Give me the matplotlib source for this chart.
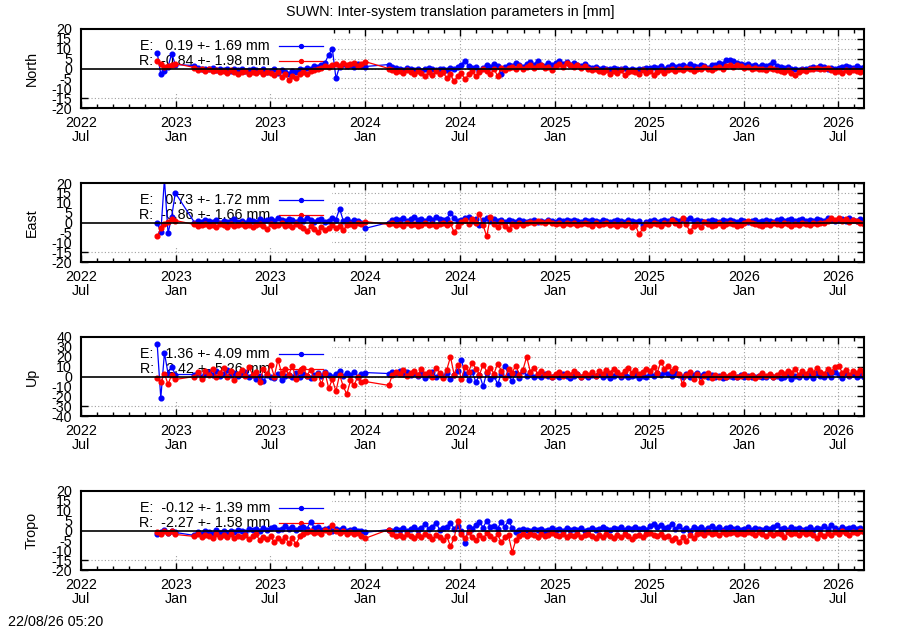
import matplotlib
matplotlib.use('Agg')
import matplotlib.pyplot as plt
import matplotlib.dates as mdates
from matplotlib.lines import Line2D
from matplotlib.patches import Rectangle
import pandas as pd
import datetime as dt

plt.rcParams['font.family'] = ['Liberation Sans', 'DejaVu Sans']
plt.rcParams['axes.unicode_minus'] = False
FS = 10.3

title = "SUWN: Inter-system translation parameters in [mm]"
stamp = "22/08/26 05:20"
panel_names = ["North", "East", "Up", "Tropo"]
e_means = [0.19, 0.73, 1.36, -0.12]
e_sigmas = [1.69, 1.72, 4.09, 1.39]
r_means = [-0.84, -0.86, 2.42, -2.27]
r_sigmas = [1.98, 1.66, 5.26, 1.58]
y_limits = [20, 20, 40, 20]
y_steps = [5, 5, 10, 5]
x_tick_labels = ["2022\nJul", "2023\nJan", "2023\nJul", "2024\nJan", "2024\nJul",
                 "2025\nJan", "2025\nJul", "2026\nJan", "2026\nJul"]
segment_starts = ["2022-11-25", "2023-02-05", "2024-02-15"]
segment_sizes = [6, 48]

north_e = [
    8.0, -3.0, -1.5, 1.0, 7.5, 2.0,
    1.5, 0.5, -0.5, 0.0,  -0.5, 0.5, -1.0, 0.0,  -1.0, -0.5, -1.5, 0.0, -1.0,
    -0.5, -1.5, -1.0, 0.0,  -1.0, -1.5, -0.5, -2.0,  -1.5, -0.5, -2.5, -1.0, -2.0,
    -3.0, -1.5, -2.0, -0.5,  -1.0, 0.5, 0.0, 1.5,  1.0, 2.0, 3.0, 7.0, 10.0,
    -5.0, 1.0, 2.5, 1.5,  2.0, 1.0, 2.5, 1.5, 1.0,
    2.0, 1.0, 0.5,  0.0, -1.0, 0.5, -0.5,  -1.0, 0.0, -1.5, -0.5,  0.5, -0.5, -1.0, 0.0, -0.5,
    -1.0, 0.5, -0.5, 1.0,  2.0, 4.0, 1.5, 0.5,  1.0, -1.5, 0.5, 2.0, 1.0,
    2.5, 1.5, -3.0, 1.0,  2.0, 1.5, 3.0, 2.0, 1.0,  2.5, 3.5, 2.0, 4.0,  2.0, 1.5, 3.0, 2.0,
    3.0, 4.0, 2.5, 3.5, 2.0,  3.0, 2.0, 1.5, 2.5,  1.0, 0.5, 1.0, 0.0,  0.5, -0.5, 0.0, 0.5,
    -0.5, 0.0, 0.5, -1.0, 0.0,  -1.0, 0.0, -0.5, 0.5,  0.5, 1.0, 0.5, 1.5, 0.0,
    1.0, 2.0, 1.0, 1.5,  2.0, 1.0, 2.5, 1.5,  1.0, 2.0, 1.5, 0.5, 2.0,  2.0, 3.0, 2.5, 4.5,
    4.5, 4.0, 3.0, 2.5,
    2.0, 2.5, 1.5, 2.0, 1.0,  2.0, 1.5, 2.0, 3.5,  1.5, 1.0, 0.5, 1.0,  0.0, -0.5, -1.0, 0.0, -0.5,
    0.5, 1.0, 0.5, 1.5,  1.0, 0.0, 0.5, -0.5,  0.5, 1.0, 1.5, 1.0, 0.5,  1.5, 0.5, 1.0,
]
north_r = [
    4.0, 2.5, 1.0, 1.5, 2.0, 2.5,
    0.5, -1.0, 0.0, -1.5,  -0.5, -1.5, -1.0, -2.0,  -1.5, -2.5, -1.0, -2.0, -3.0,
    -2.0, -1.5, -3.0, -2.0,  -2.5, -1.5, -3.0, -2.0,  -2.5, -3.5, -2.0, -4.5, -3.0,
    -6.0, -4.0, -5.0, -3.0,  -2.0, -3.0, -1.5, -1.0,  0.0, 0.5, 1.5, 1.0, 2.0,
    2.5, 1.5, 3.0, 2.0,  2.5, 3.0, 1.5, 2.5, 3.5,
    0.0, -1.0, -2.0,  -1.5, -2.5, -1.0, -2.0,  -3.0, -1.5, -2.5, -4.0,  -2.0, -3.5, -1.5, -3.0, -2.0,
    -5.0, -3.0, -6.5, -4.0,  -2.5, -5.5, -3.0, -1.5,  -4.0, -2.0, -0.5, -1.5, -3.0,
    0.0, -4.0, 0.5, -1.0,  0.5, 1.0, -0.5, 1.5, 0.0,  1.0, 2.0, 0.5, 1.5,  2.0, 0.5, 1.0, -1.0,
    1.5, 2.5, 1.0, 3.0, 2.0,  1.0, 2.0, 0.5, 1.5,  0.0, -1.0, -0.5, -1.5,  -2.0, -1.0, -3.0, -1.5,
    -2.5, -1.0, -3.5, -2.0, -1.5,  -2.0, -3.0, -1.0, -2.5,  -1.5, -3.5, -2.0, -1.0, -2.5,
    -1.0, 0.0, -1.5, -0.5,  -1.0, 0.5, -0.5, -1.5,  0.0, -0.5, 1.0, 0.0, -1.0,  0.5, 1.0, 0.0, 1.5,
    2.0, 1.0, 2.0, 1.5,
    0.5, 1.0, 0.0, 0.5, -0.5,  0.0, -1.0, 0.5, -0.5,  -1.0, -1.5, -2.0, -1.0,  -2.5, -3.5, -2.0, -1.0, -1.5,
    -0.5, 0.0, 0.5, -0.5,  0.0, 0.5, -1.0, -2.0,  -1.5, -2.5, -1.0, -2.0, -1.0,  -1.5, -2.0, -1.0,
]
east_e = [
    0.0, -5.0, 22.0, -5.5, 3.0, 15.0,
    0.0, 1.0, 0.5, 1.5,  1.0, 0.5, 1.5, 0.0,  1.0, 0.5, 1.0, 2.0, 0.5,
    1.0, 0.0, 1.5, 1.0,  0.5, 2.0, 1.0, 1.5,  2.0, 1.0, 2.5, 1.5, 1.0,
    2.0, 1.5, 0.5, 2.0,  1.0, 2.5, 1.5, 0.5,  1.5, 2.0, 0.5, 1.0, 2.5,
    1.5, 7.0, 1.0, 2.0,  0.5, 1.5, 1.0, 0.0, -3.0,
    0.0, 1.5, 2.0,  1.5, 2.5, 1.0, 2.0,  3.0, 1.5, 2.0, 1.0,  2.5, 1.5, 3.0, 2.0, 1.5,
    2.0, 5.0, 2.5, 1.0,  1.5, 2.5, 3.0, 1.0,  2.0, -1.5, 1.5, 2.5, 1.0,
    2.0, 1.0, 1.5, 0.5,  1.5, 1.0, 0.5, 1.5, 1.0,  0.5, 1.0, 1.5, 0.5,  1.0, 0.5, 1.5, 1.0,
    0.5, 1.5, 1.0, 1.5, 1.0,  1.5, 1.0, 0.5, 1.5,  1.0, 1.5, 1.0, 0.5,  1.5, 1.0, 0.5, 1.0,
    1.5, 1.0, 0.5, 1.5, 1.0,  0.5, 1.0, -1.5, 0.5,  1.0, 1.5, 0.5, 1.0, 1.5,
    1.0, 2.0, 1.5, 1.0,  2.0, 1.5, 2.5, 1.0,  1.5, 1.0, 0.5, 1.0, 1.5,  1.0, 0.5, 1.5, 1.0,
    1.5, 1.0, 0.5, 1.5,
    1.0, 0.5, 1.0, 1.5, 0.5,  1.0, 1.5, 1.0, 0.5,  1.5, 2.0, 1.0, 1.5,  2.0, 1.0, 1.5, 2.0, 1.0,
    1.5, 1.0, 2.0, 1.5,  1.0, 2.5, 1.5, 1.0,  1.5, 2.0, 1.0, 2.5, 1.5,  1.0, 2.0, 1.5,
]
east_r = [
    -7.0, -3.0, -1.0, 0.5, 2.0, 1.0,
    -1.0, -2.0, -1.5, -1.0,  -2.0, -1.5, -2.5, -1.0,  -1.5, -2.5, -1.0, -2.0, -1.5,
    -1.0, -2.0, -1.5, -2.5,  -1.5, -1.0, -2.0, -3.5,  -1.0, -2.0, -1.5, -0.5, -2.0,
    -1.5, -2.5, -1.0, -2.0,  -3.0, -4.5, -2.0, -3.5,  -5.0, -2.5, -4.0, -3.0, -1.5,
    -3.0, -2.0, -4.0, -1.5,  -1.0, -2.0, 0.0, -1.0, 0.5,
    -1.0, -0.5, -1.5,  -1.0, -2.0, -0.5, -1.5,  -1.0, -2.0, -1.5, -0.5,  -1.5, -1.0, -2.0, -1.0, -0.5,
    -1.5, -0.5, -5.0, -2.0,  0.5, 1.5, -1.0, 2.0,  0.0, 4.5, -1.5, -7.0, 3.0,
    -1.0, -2.5, 0.5, -2.0,  -3.5, -1.0, -2.0, -0.5, -1.5,  0.0, 0.5, -0.5, 1.0,  0.5, 0.0, 1.0, -0.5,
    -1.0, -0.5, -1.5, -0.5, -1.0,  -0.5, -1.5, -1.0, -0.5,  -1.0, -2.0, -0.5, -1.5,  -1.0, -0.5, -1.5, -1.0,
    -2.0, -1.0, -1.5, -0.5, -2.5,  -1.5, -6.0, -3.0, -1.0,  -1.5, -0.5, -1.0, -2.0, -0.5,
    -1.0, 1.5, 0.0, -1.5,  2.5, -1.0, -4.5, -2.0,  -1.0, -2.5, 0.5, -1.0, -2.0,  -1.5, -0.5, -2.0, -1.0,
    -0.5, -1.0, -2.0, -1.5,
    0.0, 1.0, -0.5, -1.0, -1.5,  -2.0, -1.0, -1.5, -0.5,  -1.0, -1.5, -0.5, -1.0,  -2.0, -1.0, -1.5, -0.5, -1.0,
    -1.5, -0.5, -1.0, 0.0,  -0.5, 1.0, 2.5, 1.5,  2.5, 1.0, 2.0, 0.5, 1.5,  1.0, 0.0, -1.0,
]
up_e = [
    33.0, -22.0, 24.0, 3.0, 10.0, 2.0,
    2.0, 4.0, 0.0, 3.0,  5.0, 2.0, 6.0, 1.0,  3.0, 7.0, 2.0, 4.0, 1.0,
    3.0, 5.0, 0.0, 2.0,  -3.0, 1.0, -5.0, 2.0,  0.0, -2.0, 3.0, -4.0, 1.0,
    2.0, -1.0, 4.0, 0.0,  3.0, 1.0, -2.0, 2.0,  4.0, 1.0, 5.0, 2.0, 0.0,
    3.0, 6.0, 1.0, 4.0,  2.0, 5.0, 0.0, 3.0, 4.0,
    3.0, 5.0, 4.0,  6.0, 3.0, 5.0, 2.0,  4.0, 1.0, 3.0, -2.0,  2.0, 5.0, -1.0, 3.0, 0.0,
    4.0, -3.0, 2.0, 6.0,  17.0, 3.0, -4.0, 5.0,  -6.0, 2.0, -10.0, 4.0, -3.0,
    1.0, -8.0, 3.0, 11.0,  2.0, -5.0, 4.0, -2.0, 6.0,  1.0, 3.0, -1.0, 2.0,  0.0, 3.0, 1.0, -1.0,
    2.0, 0.0, 3.0, 1.0, -2.0,  1.0, 3.0, 0.0, 2.0,  -1.0, 2.0, 1.0, 3.0,  0.0, 2.0, -2.0, 1.0,
    3.0, 0.0, 2.0, -1.0, 1.0,  2.0, -2.0, 1.0, 0.0,  3.0, 1.0, 4.0, 2.0, 5.0,
    3.0, 1.0, 4.0, 2.0,  0.0, 3.0, -1.0, 2.0,  4.0, 1.0, 3.0, 0.0, 2.0,  -1.0, 1.0, -2.0, 0.0,
    1.0, -1.0, 0.0, 2.0,
    0.0, 1.0, -1.0, 0.0, 1.0,  -1.0, 0.0, 2.0, -1.0,  1.0, -2.0, 0.0, 2.0,  -3.0, 1.0, -1.0, 3.0, 0.0,
    2.0, -2.0, 4.0, 1.0,  -1.0, 3.0, 0.0, 5.0,  2.0, -2.0, 4.0, 1.0, 3.0,  0.0, 2.0, -1.0,
]
up_r = [
    -2.0, -6.0, 3.0, -8.0, 2.0, -3.0,
    0.0, 5.0, -3.0, 6.0,  2.0, 8.0, -1.0, 4.0,  9.0, 0.0, 6.0, -4.0, 3.0,
    7.0, 1.0, 10.0, 2.0,  5.0, -6.0, 8.0, 3.0,  12.0, 0.0, 17.0, 4.0, 8.0,
    2.0, 11.0, -3.0, 6.0,  9.0, 1.0, 7.0, -2.0,  3.0, -8.0, 4.0, -12.0, -3.0,
    -15.0, 2.0, -10.0, -18.0,  -4.0, -9.0, 0.0, -6.0, -5.0,
    -9.0, 2.0, 5.0,  3.0, 7.0, 1.0, 4.0,  6.0, 2.0, 8.0, 3.0,  5.0, 0.0, 9.0, 4.0, -2.0,
    7.0, 20.0, 2.0, 12.0,  -3.0, 10.0, 5.0, 14.0,  8.0, 2.0, 12.0, 5.0, 9.0,
    3.0, 13.0, 6.0, -2.0,  8.0, 4.0, 11.0, 2.0, 7.0,  20.0, 5.0, 9.0, 3.0,  6.0, 2.0, 4.0, 0.0,
    3.0, 5.0, 1.0, 4.0, 2.0,  6.0, 3.0, 0.0, 4.0,  2.0, 5.0, 1.0, 6.0,  3.0, 7.0, 4.0, 8.0,
    5.0, 2.0, 6.0, 9.0, 4.0,  7.0, 3.0, 5.0, 8.0,  6.0, 10.0, 4.0, 15.0, 8.0,
    11.0, 6.0, 9.0, 3.0,  -8.0, 2.0, 5.0, -3.0,  3.0, -6.0, 1.0, 4.0, -2.0,  2.0, -1.0, 3.0, 0.0,
    2.0, 4.0, -1.0, 1.0,
    3.0, 0.0, 2.0, -2.0, 1.0,  4.0, 1.0, 3.0, 0.0,  2.0, 5.0, 3.0, 6.0,  4.0, 8.0, 2.0, 6.0, 3.0,
    7.0, 4.0, 9.0, 5.0,  3.0, 8.0, 5.0, 10.0,  11.0, 4.0, 7.0, 2.0, 6.0,  4.0, 7.0, 3.0,
]
tropo_e = [
    -2.0, -1.0, 0.5, -1.5, -0.5, -1.0,
    -2.5, -1.0, -2.0, 0.0,  -1.0, -2.0, 0.5, -1.5,  -0.5, -1.5, 0.0, -1.0, 0.5,
    0.0, -1.0, 1.0, 0.5,  1.0, 0.0, 1.5, 0.5,  1.5, 2.0, 0.5, 1.0, 2.5,
    1.0, 2.0, 0.5, 1.5,  2.0, 1.0, 4.5, 1.5,  2.0, 0.5, 1.0, 1.5, 0.0,
    1.0, 0.5, 1.5, 0.0,  0.5, 1.0, 0.0, -0.5, -1.0,
    0.5, 0.0, 1.0,  0.5, 1.5, 0.0, 1.0,  2.0, 0.5, 1.5, 3.5,  1.0, 2.0, 4.0, 0.5, 1.5,
    2.0, 4.0, 1.0, 2.5,  0.0, -6.5, 2.0, 1.0,  3.0, 4.5, 1.5, 5.0, 2.0,
    2.5, 1.0, 4.5, 2.0,  5.0, 1.5, -1.0, 0.5, 1.0,  0.5, 0.0, 1.0, 0.5,  1.0, 0.0, 0.5, 1.5,
    0.5, 1.0, 0.0, 1.5, 0.5,  1.0, 0.5, 1.5, 0.0,  0.5, 1.5, 0.5, 1.0,  2.0, 1.0, 0.5, 1.5,
    1.0, 2.0, 0.5, 1.5, 1.0,  2.0, 1.0, 1.5, 0.5,  2.5, 3.5, 2.0, 3.0, 1.5,
    2.0, 3.5, 1.0, 2.5,  0.5, 1.5, 0.0, 2.0,  1.0, 2.0, 0.5, 1.5, 2.5,  1.0, 2.0, 0.5, 1.5,
    2.0, 1.0, 1.5, 0.5,
    1.0, 2.0, 0.5, 1.5, 1.0,  0.5, 1.5, 1.0, 2.0,  3.0, 1.0, 1.5, 0.5,  2.0, 1.0, 1.5, 0.5, 1.0,
    2.0, 0.5, 1.5, 1.0,  2.5, 1.0, 3.0, 1.5,  0.5, 2.0, 1.0, 1.5, 2.0,  1.0, 1.5, 0.5,
]
tropo_r = [
    -1.0, -2.0, -0.5, -1.5, 0.0, -2.0,
    -3.0, -2.0, -3.5, -2.5,  -3.0, -4.0, -2.0, -3.5,  -2.5, -3.5, -2.0, -4.0, -3.0,
    -3.5, -2.5, -4.5, -3.0,  -2.0, -5.0, -3.5, -4.5,  -3.0, -6.0, -4.0, -5.5, -3.5,
    -6.5, -4.0, -7.0, -3.0,  -2.0, -1.0, 0.0, -1.5,  -1.0, -2.0, 0.5, -1.0, 3.0,
    -0.5, -1.5, -0.5, -2.0,  -1.0, -2.0, -1.5, -3.0, -4.0,
    0.5, -2.0, -3.0,  -2.5, -3.5, -2.0, -3.0,  -4.0, -2.5, -3.5, -2.0,  -3.0, -4.5, -2.5, -3.5, -5.0,
    -3.0, -8.0, -4.0, 5.0,  -2.0, -4.0, -1.0, -3.5,  -5.0, -2.5, -4.0, -1.5, -3.0,
    -4.5, -2.0, -6.0, -3.5,  -2.5, -11.0, -5.0, -3.0, -2.0,  -3.0, -2.0, -2.5, -3.5,  -2.0, -3.0, -2.5, -1.5,
    -2.5, -3.0, -2.0, -3.5, -2.5,  -3.0, -2.0, -3.5, -2.5,  -2.0, -3.0, -4.0, -2.5,  -3.5, -2.0, -3.0, -4.0,
    -2.5, -3.5, -2.0, -3.0, -4.5,  -3.0, -2.5, -3.5, -2.0,  -1.5, -2.5, -3.0, -2.0, -3.5,
    -3.0, -5.0, -4.0, -6.0,  -3.5, -5.5, -2.5, -4.0,  -2.0, -1.5, -2.5, -1.0, -2.0,  -1.5, -2.5, -1.0, -2.0,
    -1.5, -1.0, -2.0, -1.5,
    -2.0, -1.0, -1.5, -2.5, -1.0,  -2.0, -3.0, -1.5, -2.5,  -1.5, -2.0, -3.5, -1.0,  -2.0, -1.5, -2.5, -1.0, -2.0,
    -1.5, -2.5, -4.0, -2.0,  -3.0, -1.5, -2.5, -1.0,  -2.0, -0.5, -1.5, -2.5, -1.0,  -1.5, -0.5, -1.0,
]

e_series = [north_e, east_e, up_e, tropo_e]
r_series = [north_r, east_r, up_r, tropo_r]


def make_dates(n):
    n1, n2 = segment_sizes
    d1 = pd.date_range(segment_starts[0], periods=n1, freq='7D')
    d2 = pd.date_range(segment_starts[1], periods=n2, freq='7D')
    d3 = pd.date_range(segment_starts[2], periods=n - n1 - n2, freq='7D')
    return d1.append(d2).append(d3)


W, H = 900, 630
fig = plt.figure(figsize=(9, 6.3), dpi=100)
AX_L, AX_R = 81, 864
AX_H = 79
tops = [29, 183, 337, 491]

fig.text(0.5, 1 - 12 / H, title, ha='center', va='center', fontsize=FS)
fig.text(8 / W, 1 - 622 / H, stamp, ha='left', va='center', fontsize=FS)

major_dates = pd.date_range('2022-07-01', '2026-07-01', freq='6MS')
xmin = dt.datetime(2022, 7, 1)
xmax = dt.datetime(2026, 8, 20)
MS = 3.4
LW = 0.9

for i in range(4):
    top = tops[i]
    ax = fig.add_axes([AX_L / W, 1 - (top + AX_H) / H, (AX_R - AX_L) / W, AX_H / H])
    ax.set_axisbelow(True)
    lim = y_limits[i]
    st = y_steps[i]
    yt = list(range(-lim, lim + 1, st))
    ax.set_ylim(-lim, lim)
    ax.set_yticks(yt)
    ax.set_yticklabels([str(v) for v in yt])
    ax.set_xlim(xmin, xmax)
    ax.set_xticks(major_dates)
    ax.set_xticklabels(x_tick_labels)
    ax.xaxis.set_minor_locator(mdates.MonthLocator())
    for lbl in ax.get_xticklabels():
        lbl.set_linespacing(1.0)
    ax.tick_params(axis='both', which='both', direction='in', top=True, right=True,
                   labelsize=FS, width=1.0)
    ax.tick_params(axis='x', which='major', length=5, pad=5.5)
    ax.tick_params(axis='x', which='minor', length=3)
    ax.tick_params(axis='y', which='major', length=5, pad=6.5)
    for sp in ax.spines.values():
        sp.set_linewidth(1.5)
    ax.grid(True, which='major', color='#a0a0a0', linestyle=(0, (1, 2)), linewidth=0.8)

    # key region (grid hidden there)
    bx = (332 - AX_L) / (AX_R - AX_L)
    ax.add_patch(Rectangle((0, 0.19), bx, 0.81, transform=ax.transAxes,
                           facecolor='white', edgecolor='none', zorder=1))

    dates = make_dates(len(e_series[i]))
    ax.plot(dates, e_series[i], color='#0000ff', lw=LW, marker='o', ms=MS,
            mec='#0000ff', zorder=2)
    dates_r = make_dates(len(r_series[i]))
    ax.plot(dates_r, r_series[i], color='#ff0000', lw=LW, marker='o', ms=MS,
            mec='#ff0000', zorder=2.1)
    ax.axhline(0, color='black', lw=1.2, zorder=3)

    fig.text(32 / W, 1 - (top + AX_H / 2) / H, panel_names[i], rotation=90,
             ha='center', va='center', fontsize=FS)

    # key
    rows = [("E:", e_means[i], e_sigmas[i], '#0000ff'),
            ("R:", r_means[i], r_sigmas[i], '#ff0000')]
    for k, (lab, m, s, col) in enumerate(rows):
        off = 16.5 + 15.5 * k
        ya = 1 - off / AX_H
        xt = (270 - AX_L) / (AX_R - AX_L)
        ax.text(xt, ya, f"{lab} {m:6.2f} +- {s:.2f} mm", transform=ax.transAxes,
                ha='right', va='center', fontsize=FS, zorder=1.5, clip_on=False)
        x1 = (279 - AX_L) / (AX_R - AX_L)
        x2 = (323 - AX_L) / (AX_R - AX_L)
        xm = (301 - AX_L) / (AX_R - AX_L)
        ax.add_line(Line2D([x1, x2], [ya, ya], transform=ax.transAxes, color=col,
                           lw=LW, zorder=1.5))
        ax.add_line(Line2D([xm], [ya], transform=ax.transAxes, color=col, marker='o',
                           ms=2.8, zorder=1.5))

fig.savefig('out.png', dpi=100)
